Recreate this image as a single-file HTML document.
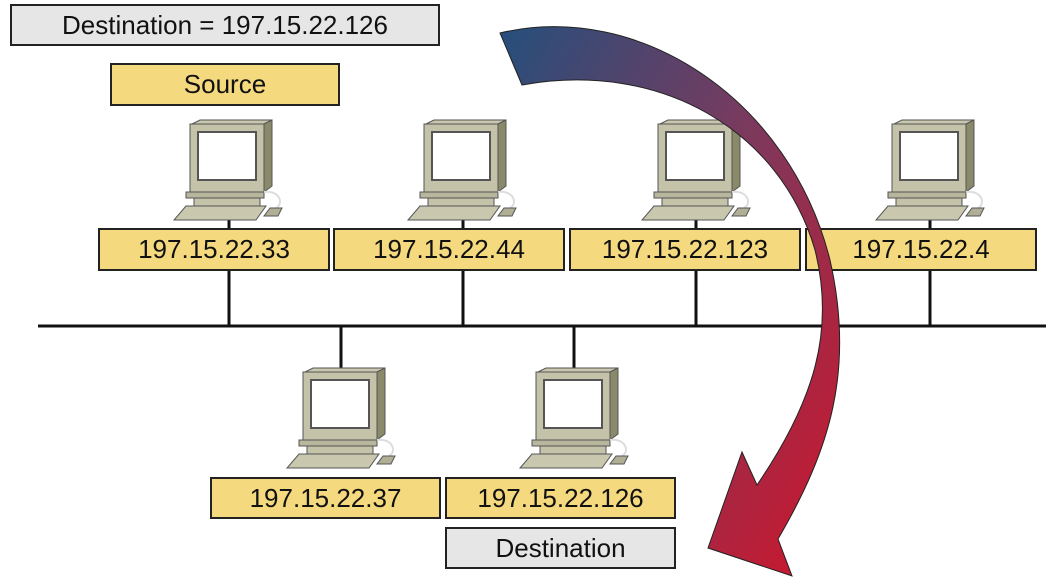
<!DOCTYPE html>
<html><head><style>
body{margin:0;width:1046px;height:581px;background:#fff;overflow:hidden;position:relative;font-family:"Liberation Sans",sans-serif}
.b{position:absolute;box-sizing:border-box;border:2px solid #222;font-size:26px;line-height:38px;text-align:center;color:#111}
.y{background:#f5d97e}.g{background:#e6e6e6}
</style></head><body>
<svg width="1046" height="581" style="position:absolute;left:0;top:0">
<defs>
<g id="pc">
 <polygon points="20,4 92,4 100,0 28,0" fill="#c9c7ae" stroke="#555" stroke-width="1"/>
 <polygon points="92,4 100,0 100,66 92,72" fill="#8a8a6a" stroke="#555" stroke-width="1"/>
 <rect x="18" y="4" width="74" height="68" fill="#c4c2a8" stroke="#555"/>
 <rect x="26" y="12" width="58" height="48" fill="#fff" stroke="#555" stroke-width="2"/>
 <rect x="14" y="72" width="78" height="6" fill="#b8b69c" stroke="#555"/>
 <rect x="22" y="78" width="66" height="8" fill="#c4c2a8" stroke="#555"/>
 <polygon points="14,86 94,86 84,100 2,100" fill="#c9c7ae" stroke="#555"/>
 <path d="M92,72 C108,70 112,84 104,88" fill="none" stroke="#ddd" stroke-width="2"/>
 <polygon points="98,88 110,88 106,96 92,96" fill="#b0ae94" stroke="#555"/>
</g>
<linearGradient id="ar" x1="0" y1="0" x2="1" y2="1">
 <stop offset="0" stop-color="#254f7c"/><stop offset="0.45" stop-color="#7a3a5e"/><stop offset="1" stop-color="#d0152a"/>
</linearGradient>
</defs>
<line x1="229" y1="210" x2="229" y2="326" stroke="#111" stroke-width="3"/>
<line x1="463" y1="210" x2="463" y2="326" stroke="#111" stroke-width="3"/>
<line x1="696" y1="210" x2="696" y2="326" stroke="#111" stroke-width="3"/>
<line x1="930" y1="210" x2="930" y2="326" stroke="#111" stroke-width="3"/>
<line x1="341" y1="326" x2="341" y2="370" stroke="#111" stroke-width="3"/>
<line x1="574" y1="326" x2="574" y2="370" stroke="#111" stroke-width="3"/>
<line x1="38" y1="326" x2="1046" y2="326" stroke="#111" stroke-width="3"/>
<use href="#pc" x="172" y="120"/>
<use href="#pc" x="406" y="120"/>
<use href="#pc" x="640" y="120"/>
<use href="#pc" x="874" y="120"/>
<use href="#pc" x="285" y="368"/>
<use href="#pc" x="518" y="368"/>
</svg>
<div class="b g" style="left:10px;top:4px;width:430px;height:42px">Destination = 197.15.22.126</div>
<div class="b y" style="left:110px;top:63px;width:230px;height:43px">Source</div>
<div class="b y" style="left:98px;top:228px;width:232px;height:43px">197.15.22.33</div>
<div class="b y" style="left:333px;top:228px;width:232px;height:43px">197.15.22.44</div>
<div class="b y" style="left:569px;top:228px;width:232px;height:43px">197.15.22.123</div>
<div class="b y" style="left:805px;top:228px;width:232px;height:43px">197.15.22.4</div>
<div class="b y" style="left:210px;top:477px;width:231px;height:42px">197.15.22.37</div>
<div class="b y" style="left:445px;top:477px;width:231px;height:42px">197.15.22.126</div>
<div class="b g" style="left:445px;top:527px;width:231px;height:42px">Destination</div>
<svg width="1046" height="581" style="position:absolute;left:0;top:0">
<path d="M500,33 C640,0 790,100 830,260 C855,370 830,450 778,539 L792,576 L708,548 L742,452 L757,485 C815,400 835,330 815,250 C780,130 660,60 522,85 Z" fill="url(#ar)" stroke="#222" stroke-width="1"/>
</svg>
</body></html>
